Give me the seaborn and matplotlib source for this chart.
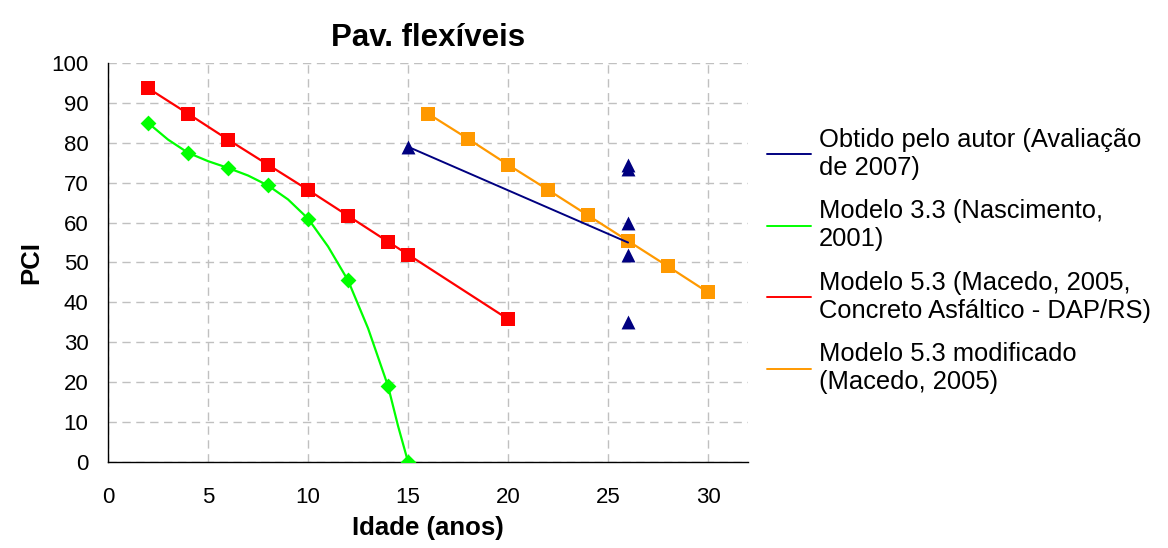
import matplotlib
matplotlib.use("Agg")
import matplotlib.pyplot as plt
from matplotlib.lines import Line2D
import seaborn as sns

# Dados (Idade em anos x PCI)
idade_autor_linha = [15, 26]
pci_autor_linha = [79, 55]
idade_autor_pts = [15, 26, 26, 26, 26, 26]
pci_autor_pts = [79, 74.5, 73.5, 60, 52, 35]

idade_m33 = [2, 4, 6, 8, 10, 12, 14, 15]
pci_m33 = [85, 77.5, 73.7, 69.3, 61, 45.5, 19, 0]
# curva do modelo 3.3 (pontos lidos ao longo da linha)
idade_m33_curva = [2, 3, 4, 5, 6, 7, 8, 9, 10, 11, 12, 13, 14, 14.5, 15]
pci_m33_curva = [85, 80.8, 77.5, 75.4, 73.7, 71.8, 69.3, 65.8, 61, 54, 45.5, 33.5, 19, 9, 0]

idade_m53 = [2, 4, 6, 8, 10, 12, 14, 15, 20]
pci_m53 = [93.7, 87.3, 80.8, 74.5, 68.2, 61.7, 55.2, 52, 35.8]

idade_m53mod = [16, 18, 20, 22, 24, 26, 28, 30]
pci_m53mod = [87.3, 81, 74.5, 68.2, 61.8, 55.4, 49, 42.5]

legendas = [
    "Obtido pelo autor (Avaliação\nde 2007)",
    "Modelo 3.3 (Nascimento,\n2001)",
    "Modelo 5.3 (Macedo, 2005,\nConcreto Asfáltico - DAP/RS)",
    "Modelo 5.3 modificado\n(Macedo, 2005)",
]

AZUL = "#000080"
VERDE = "#00FF00"
VERMELHO = "#FF0000"
LARANJA = "#FF9900"

sns.set_style("white")
plt.rcParams["font.family"] = ["Liberation Sans", "DejaVu Sans"]
plt.rcParams["text.color"] = "black"
plt.rcParams["axes.labelcolor"] = "black"
plt.rcParams["xtick.color"] = "black"
plt.rcParams["ytick.color"] = "black"

fig = plt.figure(figsize=(11.68, 5.48), dpi=100)
ax = fig.add_axes([0.0925, 0.157, 0.548, 0.728])

# modelo 5.3
sns.lineplot(x=idade_m53, y=pci_m53, color=VERMELHO, linewidth=1.6, ax=ax)
sns.scatterplot(x=idade_m53, y=pci_m53, color=VERMELHO, marker="s", s=90,
                linewidth=0, ax=ax, zorder=3)

# modelo 3.3
sns.lineplot(x=idade_m33_curva, y=pci_m33_curva, color=VERDE, linewidth=1.6,
             sort=False, ax=ax)
sns.scatterplot(x=idade_m33, y=pci_m33, color=VERDE, marker="D", s=65,
                linewidth=0, ax=ax, zorder=3)

# modelo 5.3 modificado
sns.lineplot(x=idade_m53mod, y=pci_m53mod, color=LARANJA, linewidth=1.6, ax=ax)
sns.scatterplot(x=idade_m53mod, y=pci_m53mod, color=LARANJA, marker="s", s=90,
                linewidth=0, ax=ax, zorder=3)

# obtido pelo autor
sns.lineplot(x=idade_autor_linha, y=pci_autor_linha, color=AZUL, linewidth=1.4,
             ax=ax, zorder=4)
sns.scatterplot(x=idade_autor_pts, y=pci_autor_pts, color=AZUL, marker="^", s=100,
                linewidth=0, ax=ax, zorder=2)

ax.set_xlim(0, 32)
ax.set_ylim(0, 100)
ax.set_xticks(range(0, 31, 5))
ax.set_yticks(range(0, 101, 10))
ax.grid(True, color="#c0c0c0", linestyle=(0, (6, 4)), linewidth=1)
ax.set_axisbelow(True)
for lado in ["top", "right"]:
    ax.spines[lado].set_visible(False)
for lado in ["left", "bottom"]:
    ax.spines[lado].set_color("black")
    ax.spines[lado].set_linewidth(1)
ax.tick_params(axis="both", direction="out", length=6, width=1, color="black",
               labelsize=16)
ax.tick_params(axis="x", pad=12)
ax.tick_params(axis="y", pad=8)

ax.set_title("Pav. flexíveis", fontsize=22.5, fontweight="bold", pad=12)
ax.set_xlabel("Idade (anos)", fontsize=18.5, fontweight="bold", labelpad=6)
ax.set_ylabel("PCI", fontsize=18.5, fontweight="bold", labelpad=6)

handles = [Line2D([0], [0], color=c, linewidth=1.4)
           for c in [AZUL, VERDE, VERMELHO, LARANJA]]
fig.legend(handles, legendas, loc="upper left", bbox_to_anchor=(0.6455, 0.79),
           frameon=False, fontsize=18.4, handlelength=1.75, handletextpad=0.3,
           labelspacing=0.77, borderpad=0)

fig.savefig("out.png", dpi=100)
